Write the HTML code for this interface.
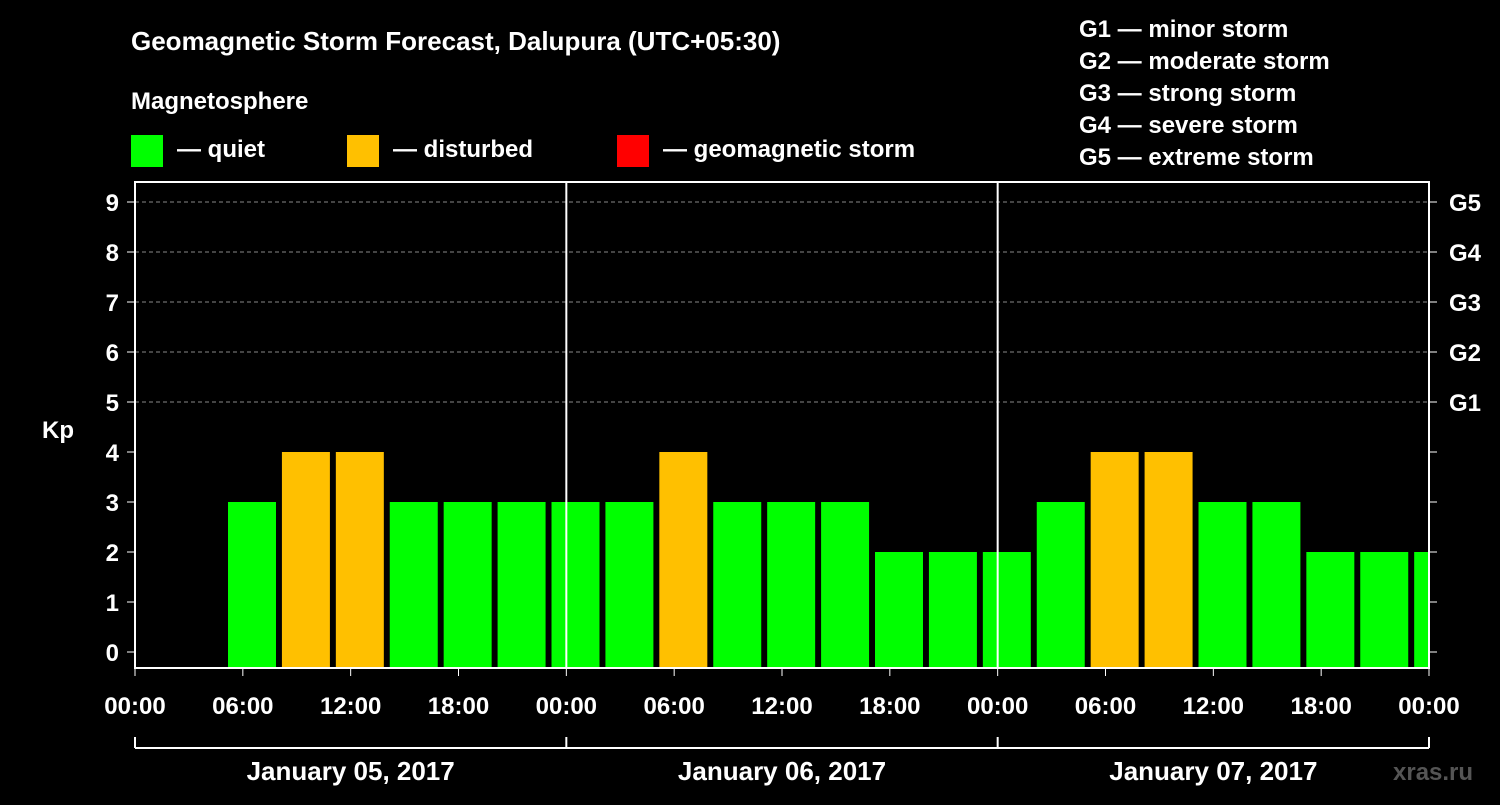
<!DOCTYPE html>
<html><head><meta charset="utf-8"><style>
body{margin:0;background:#000;width:1500px;height:800px;overflow:hidden}
svg text{font-family:"Liberation Sans",Arial,sans-serif;font-weight:bold;fill:#fff}
</style></head><body>
<svg id="chart" width="1500" height="800" xmlns="http://www.w3.org/2000/svg">
<rect width="1500" height="800" fill="#000"/>
<text x="131" y="50" font-size="26">Geomagnetic Storm Forecast, Dalupura (UTC+05:30)</text>
<text x="131" y="109" font-size="24">Magnetosphere</text>
<g><rect x="131" y="135" width="32" height="32" fill="#00ff00"/><text x="177" y="157" font-size="24">— quiet</text></g>
<g><rect x="347" y="135" width="32" height="32" fill="#ffc000"/><text x="393" y="157" font-size="24">— disturbed</text></g>
<g><rect x="617" y="135" width="32" height="32" fill="#ff0000"/><text x="663" y="157" font-size="24">— geomagnetic storm</text></g>
<g font-size="24">
<text x="1079" y="37">G1 — minor storm</text>
<text x="1079" y="69">G2 — moderate storm</text>
<text x="1079" y="101">G3 — strong storm</text>
<text x="1079" y="133">G4 — severe storm</text>
<text x="1079" y="165">G5 — extreme storm</text>
</g>
<text x="42" y="438" font-size="24">Kp</text>
<g id="plot"></g>
<text x="1393" y="780" font-size="24" fill="#555" style="fill:#555">xras.ru</text>
</svg>
<script>
const values=[3,4,4,3,3,3,3,3,4,3,3,3,2,2,2,3,4,4,3,3,2,2,2];
const firstBarHour=5.175;
const stepHours=3;
const yTicks=[0,1,2,3,4,5,6,7,8,9];
const gLabels=["G1","G2","G3","G4","G5"];
const xTickLabels=["00:00","06:00","12:00","18:00","00:00","06:00","12:00","18:00","00:00","06:00","12:00","18:00","00:00"];
const dayLabels=["January 05, 2017","January 06, 2017","January 07, 2017"];
const X0=135,X1=1429,TOP=182,BOT=668;
const xs=h=>X0+(X1-X0)*h/72;
const ys=v=>652-50*v;
const NS="http://www.w3.org/2000/svg";
const plot=document.getElementById('plot');
function mk(t,a,p){const e=document.createElementNS(NS,t);for(const k in a)e.setAttribute(k,a[k]);(p||plot).appendChild(e);return e;}
// grid
for(let v=5;v<=9;v++){const l=mk('line',{x1:X0,x2:X1,y1:ys(v),y2:ys(v),stroke:'#888','stroke-dasharray':'4,3','stroke-width':1});

}
// bars
const clip=mk('clipPath',{id:'pc'});mk('rect',{x:X0,y:TOP,width:X1-X0,height:BOT-TOP},clip);
values.forEach((v,i)=>{const h=firstBarHour+i*stepHours;
const r=mk('rect',{x:xs(h),y:ys(v),width:xs(h+2.67)-xs(h),height:BOT-ys(v),fill:v>=5?'#ff0000':v>=4?'#ffc000':'#00ff00','clip-path':'url(#pc)'});

});
// frame
mk('rect',{x:X0,y:TOP,width:X1-X0,height:BOT-TOP,fill:'none',stroke:'#fff','stroke-width':2});
[24,48].forEach(h=>mk('line',{x1:xs(h),x2:xs(h),y1:TOP,y2:BOT,stroke:'#fff','stroke-width':2}));
// y ticks
yTicks.forEach(v=>{mk('line',{x1:X0-8,x2:X0,y1:ys(v),y2:ys(v),stroke:'#fff','stroke-width':1});
mk('line',{x1:X1,x2:X1+8,y1:ys(v),y2:ys(v),stroke:'#fff','stroke-width':1});
const t=mk('text',{x:X0-16,y:ys(v)+9,'font-size':24,'text-anchor':'end'});t.textContent=v;

});
gLabels.forEach((g,i)=>{const t=mk('text',{x:1449,y:ys(5+i)+9,'font-size':24});t.textContent=g;

});
// x ticks
xTickLabels.forEach((s,i)=>{const x=xs(i*6);mk('line',{x1:x,x2:x,y1:BOT,y2:BOT+8,stroke:'#fff','stroke-width':1});
const t=mk('text',{x:x,y:714,'font-size':24,'text-anchor':'middle'});t.textContent=s;

});
// day brackets
mk('line',{x1:X0,x2:X1,y1:748,y2:748,stroke:'#fff','stroke-width':2});
[0,24,48,72].forEach(h=>mk('line',{x1:xs(h),x2:xs(h),y1:737,y2:748,stroke:'#fff','stroke-width':2}));
dayLabels.forEach((d,i)=>{const t=mk('text',{x:xs(i*24+12),y:780,'font-size':26,'text-anchor':'middle'});t.textContent=d;

});
</script>
</body></html>
